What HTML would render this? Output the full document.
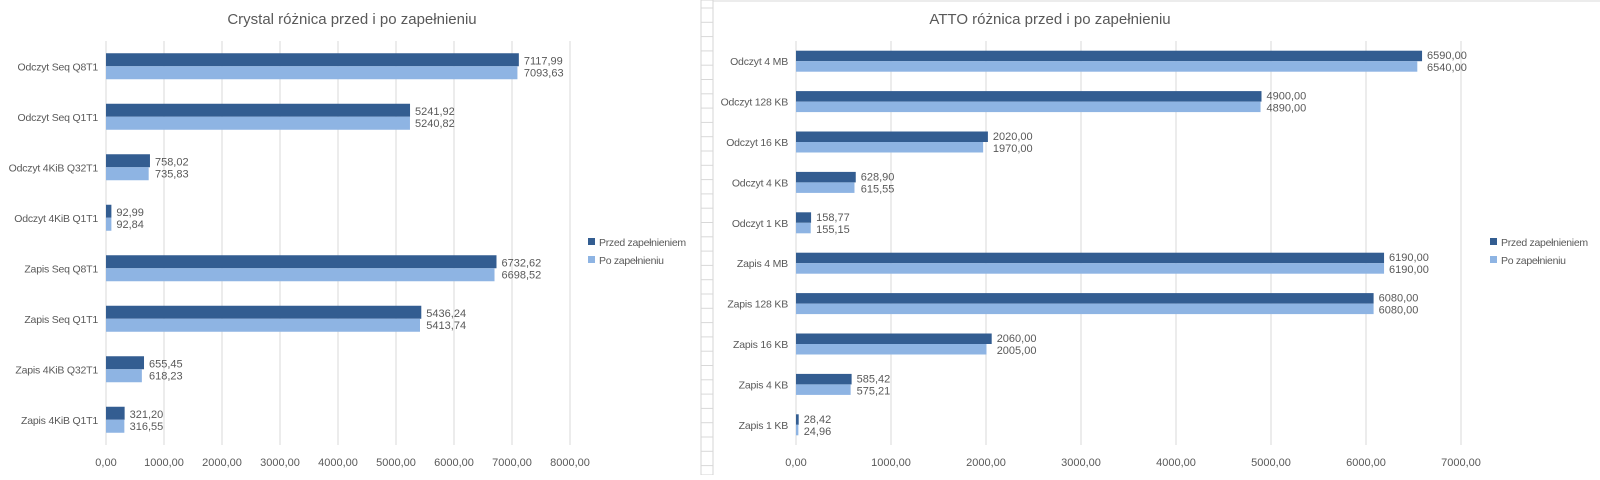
<!DOCTYPE html>
<html><head><meta charset="utf-8"><style>
body{margin:0;width:1600px;height:475px;overflow:hidden;background:#fff;font-family:"Liberation Sans",sans-serif}
svg text{font-family:"Liberation Sans",sans-serif;fill:#595959}
</style></head><body>
<svg id="s" width="1600" height="475" xmlns="http://www.w3.org/2000/svg"></svg>
<script>
const cCats=["Odczyt Seq Q8T1","Odczyt Seq Q1T1","Odczyt 4KiB Q32T1","Odczyt 4KiB Q1T1","Zapis Seq Q8T1","Zapis Seq Q1T1","Zapis 4KiB Q32T1","Zapis 4KiB Q1T1"];
const cBefore=[7117.99,5241.92,758.02,92.99,6732.62,5436.24,655.45,321.20];
const cAfter=[7093.63,5240.82,735.83,92.84,6698.52,5413.74,618.23,316.55];
const cTicks=[0,1000,2000,3000,4000,5000,6000,7000,8000];
const aCats=["Odczyt 4 MB","Odczyt 128 KB","Odczyt 16 KB","Odczyt 4 KB","Odczyt 1 KB","Zapis 4 MB","Zapis 128 KB","Zapis 16 KB","Zapis 4 KB","Zapis 1 KB"];
const aBefore=[6590,4900,2020,628.90,158.77,6190,6080,2060,585.42,28.42];
const aAfter=[6540,4890,1970,615.55,155.15,6190,6080,2005,575.21,24.96];
const aTicks=[0,1000,2000,3000,4000,5000,6000,7000];
const NS="http://www.w3.org/2000/svg",svg=document.getElementById('s');
function mk(t,a,p){const e=document.createElementNS(NS,t);for(const k in a)e.setAttribute(k,a[k]);(p||svg).appendChild(e);return e;}
const fmt=v=>v.toFixed(2).replace('.',',');
mk('rect',{x:701,y:0,width:12,height:475,fill:'#fff',stroke:'#d4d4d4'});
for(let y=8;y<475;y+=14.3){mk('line',{x1:701,x2:713,y1:y,y2:y,stroke:'#d8d8d8'});}
mk('line',{x1:713,x2:1600,y1:1,y2:1,stroke:'#d9d9d9'});
function chart(o){
  const g=mk('g',{});
  
  
  const max=o.ticks[o.ticks.length-1];
  const X=v=>o.x0+(v/max)*(o.x1-o.x0);
  const n=o.cats.length,band=(o.y1-o.y0)/n;
  const t=mk('text',{x:o.tx,y:24,'text-anchor':'middle','font-size':15},g);t.textContent=o.title;
  
  o.ticks.forEach(v=>{
    const l=mk('line',{x1:X(v),x2:X(v),y1:o.y0,y2:o.y1,stroke:'#d9d9d9'},g);
    
    const tt=mk('text',{x:X(v),y:466,'text-anchor':'middle','font-size':11},g);tt.textContent=fmt(v);
    
  });
  o.cats.forEach((c,i)=>{
    const cy=o.y0+band*(i+0.5);
    const lb=mk('text',{x:o.x0-8,y:cy+4,'text-anchor':'end','font-size':10.5,'letter-spacing':'-0.2'},g);lb.textContent=c;
    
    const b1=mk('rect',{x:X(0),y:cy-o.bh,width:X(o.b[i])-X(0),height:o.bh,fill:'#335d91'},g);
    
    const b2=mk('rect',{x:X(0),y:cy,width:X(o.a[i])-X(0),height:o.bh,fill:'#8eb4e3'},g);
    
    const v1=mk('text',{x:Math.max(X(o.b[i]),X(o.a[i]))+5,y:cy-2,'font-size':11},g);v1.textContent=fmt(o.b[i]);
    
    const v2=mk('text',{x:Math.max(X(o.b[i]),X(o.a[i]))+5,y:cy+10,'font-size':11},g);v2.textContent=fmt(o.a[i]);
    
  });
  const lg=mk('g',{},g);
  
  [['#335d91','Przed zapełnieniem'],['#8eb4e3','Po zapełnieniu']].forEach((e,i)=>{
    const y=o.ly+i*18;
    mk('rect',{x:o.lx,y:y-4,width:7,height:7,fill:e[0]},lg);
    const tx=mk('text',{x:o.lx+11,y:y+4,'font-size':10.5,'letter-spacing':'-0.3'},lg);tx.textContent=e[1];
    
  });
}
chart({name:'crystal-chart',title:'Crystal różnica przed i po zapełnieniu',tx:352,cats:cCats,b:cBefore,a:cAfter,ticks:cTicks,x0:106,x1:570,y0:41,y1:445,bh:13,lx:588,ly:242});
chart({name:'atto-chart',title:'ATTO różnica przed i po zapełnieniu',tx:1050,cats:aCats,b:aBefore,a:aAfter,ticks:aTicks,x0:796,x1:1461,y0:41,y1:445,bh:10.5,lx:1490,ly:242});
</script>
</body></html>
